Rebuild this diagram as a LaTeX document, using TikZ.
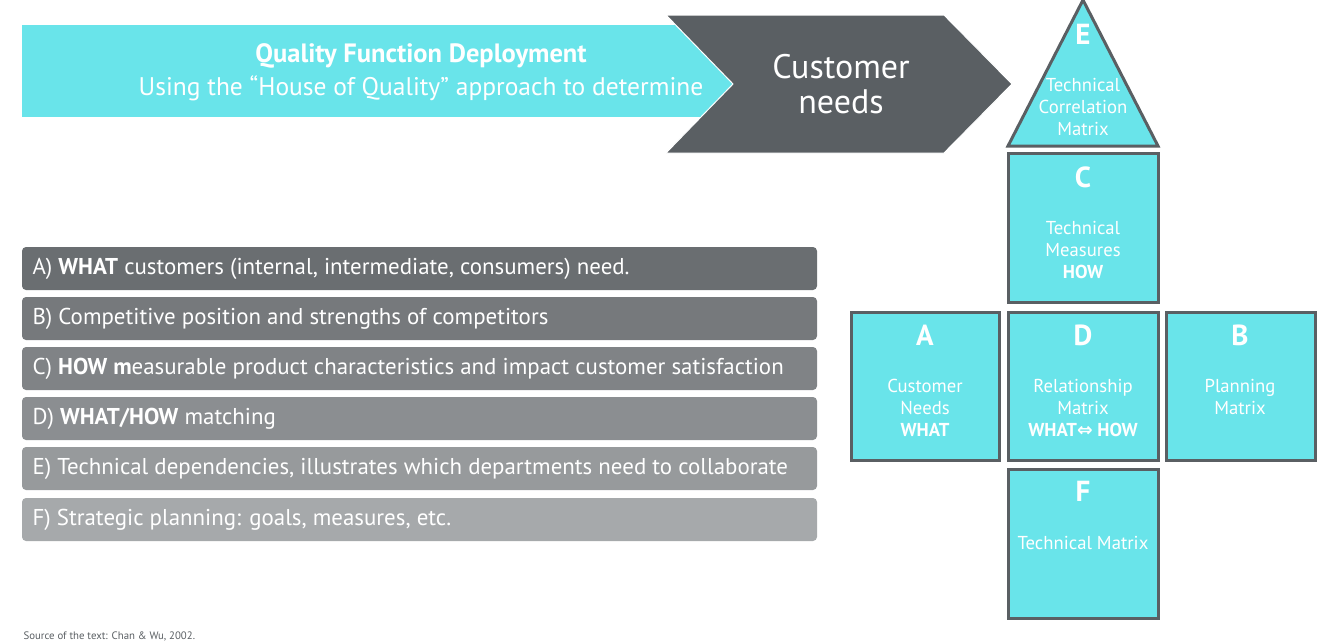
\documentclass[tikz,border=0pt]{standalone}
\usepackage{fontspec}
\setmainfont{PT Sans}
\newfontfamily\symfont{DejaVu Sans}
\usetikzlibrary{calc}
\definecolor{qcyan}{HTML}{69E4EA}
\definecolor{qdark}{HTML}{5A5F63}
\definecolor{barA}{HTML}{6A6E71}
\definecolor{barB}{HTML}{76797C}
\definecolor{barC}{HTML}{808386}
\definecolor{barD}{HTML}{8B8E91}
\definecolor{barE}{HTML}{979A9C}
\definecolor{barF}{HTML}{A6A9AB}
\tikzset{
  part/.style={fill=qcyan, draw=qdark, line width=3pt},
  letter/.style={text=white, font=\bfseries\fontsize{29}{31}\selectfont},
  partlabel/.style={text=white, align=center, font=\fontsize{18.7}{22}\selectfont},
  listbar/.style={rounded corners=4pt, draw=none},
  listtext/.style={text=white, anchor=west, font=\fontsize{22.9}{26}\selectfont}
}
% one bar of the list: y top, colour, name, text
\newcommand{\listbar}[4]{
  \fill[listbar, #2] (22,#1) rectangle (817,#1+43);
  \node[listtext] (#3) at (29,#1+21.5) {#4};
}

\begin{document}
\begin{tikzpicture}[x=1pt, y=-1pt]
    \useasboundingbox (0,0) rectangle (1338,640);
    % banner
    \fill[qcyan] (22,25) rectangle (733,117);
    \filldraw[qdark, draw=white, line width=1pt] (666,15) -- (944,15) -- (1012,84)
        -- (944,153) -- (666,153) -- (733,84) -- cycle;
    \node[text=white, font=\bfseries\fontsize{26.5}{28}\selectfont] (title) at (421,56) {Quality Function Deployment};
    \node[text=white, font=\fontsize{25.5}{28}\selectfont] (subtitle) at (421,88) {Using the “House of Quality” approach to determine};
    \node[text=white, align=center, font=\fontsize{34}{35}\selectfont] (needs) at (841,84) {Customer\\needs};
    % roof
    \filldraw[part] (1083,0) -- (1158,146) -- (1008,146) -- cycle;
    \node[letter] (lE) at (1083,34) {E};
    \node[partlabel] (tE) at (1083,107) {Technical\\Correlation\\Matrix};
    % top box
    \filldraw[part] (1008,153) rectangle (1158,302);
    \node[letter] (lC) at (1083,177) {C};
    \node[partlabel] (tC) at (1083,250) {Technical\\Measures\\\textbf{HOW}};
    % middle row
    \filldraw[part] (851,312) rectangle (999,460);
    \node[letter] (lA) at (925,335) {A};
    \node[partlabel] (tA) at (925,408) {Customer\\Needs\\\textbf{WHAT}};
    \filldraw[part] (1008,312) rectangle (1158,460);
    \node[letter] (lD) at (1083,335) {D};
    \node[partlabel] (tD) at (1083,408) {Relationship\\Matrix\\\textbf{WHAT{\symfont ⇔} HOW}};
    \filldraw[part] (1166,312) rectangle (1315,460);
    \node[letter] (lB) at (1240,335) {B};
    \node[partlabel] (tB) at (1240,397) {Planning\\Matrix};
    % bottom box
    \filldraw[part] (1008,469) rectangle (1158,618);
    \node[letter] (lF) at (1083,491) {F};
    \node[partlabel] (tF) at (1083,543) {Technical Matrix};
    % list
    \listbar{247}{barA}{iA}{A) \textbf{WHAT} customers (internal, intermediate, consumers) need.}
    \listbar{297}{barB}{iB}{B) Competitive position and strengths of competitors}
    \listbar{347}{barC}{iC}{C) \textbf{HOW m}easurable product characteristics and impact customer satisfaction}
    \listbar{397}{barD}{iD}{D) \textbf{WHAT/HOW} matching}
    \listbar{447}{barE}{iE}{E) Technical dependencies, illustrates which departments need to collaborate}
    \listbar{498}{barF}{iF}{F) Strategic planning: goals, measures, etc.}
    % source
    \node[anchor=west, text=qdark, font=\fontsize{10.8}{12}\selectfont] (src) at (20,636) {Source of the text: Chan \& Wu, 2002.};
\end{tikzpicture}
\end{document}
